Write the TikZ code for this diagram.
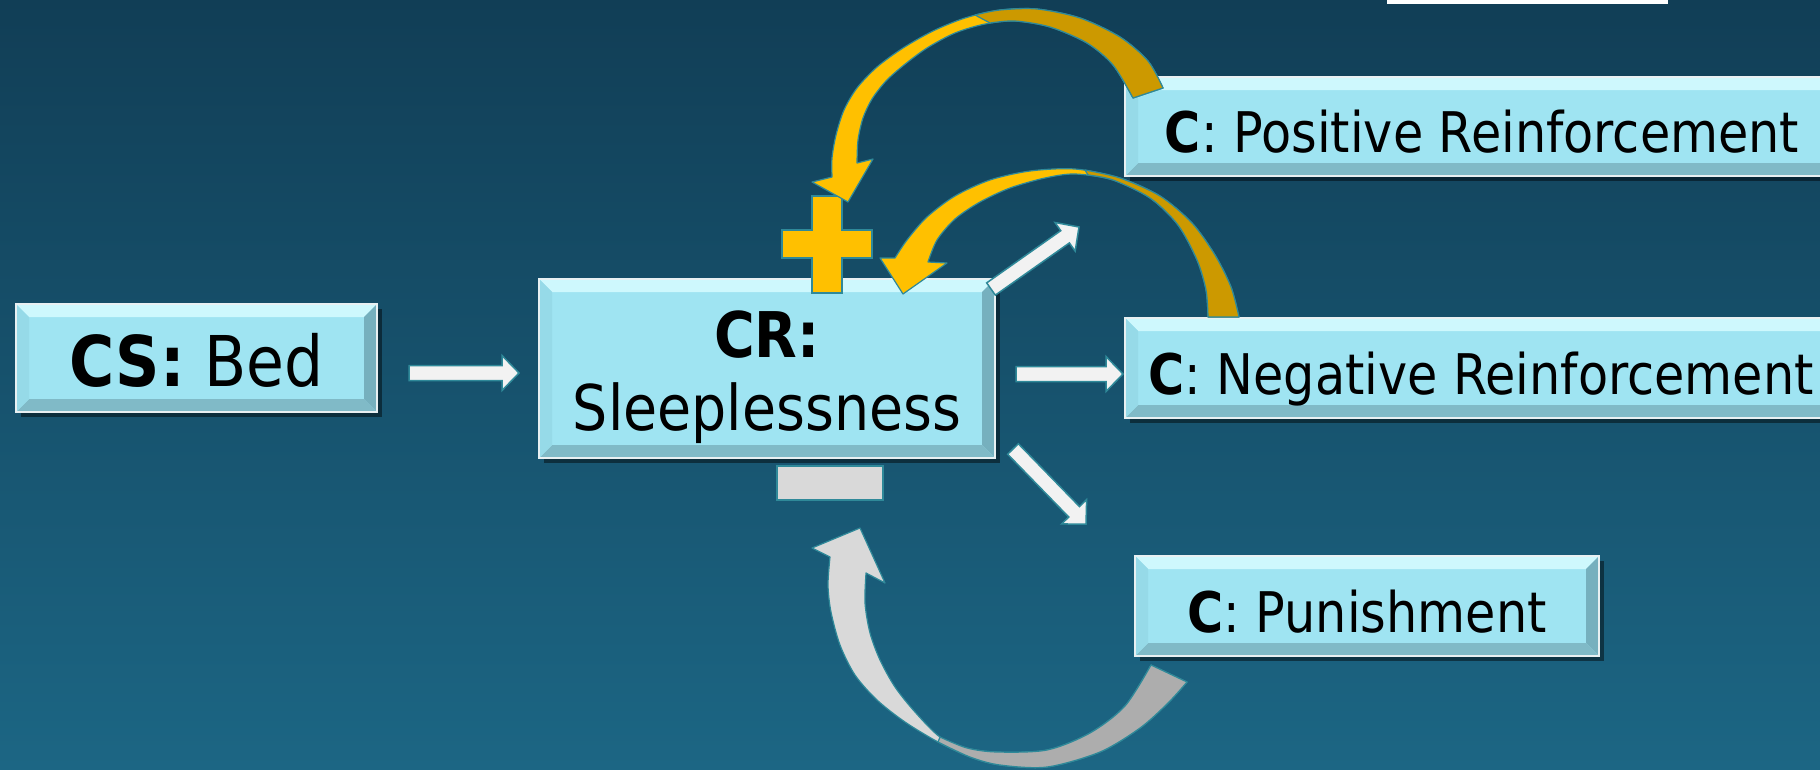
\documentclass[tikz,border=0pt]{standalone}
\usepackage{fontspec}
\setmainfont{DejaVu Sans}[FakeStretch=0.88]
\usetikzlibrary{calc,shadows}
\definecolor{bgtop}{RGB}{17,62,86}
\definecolor{bgbot}{RGB}{28,102,132}
\definecolor{boxcyan}{RGB}{159,228,242}
\definecolor{bevtop}{RGB}{206,248,253}
\definecolor{bevleft}{RGB}{150,218,232}
\definecolor{bevright}{RGB}{118,176,190}
\definecolor{bevbot}{RGB}{128,186,199}
\definecolor{boxrim}{RGB}{232,240,242}
\definecolor{tealline}{RGB}{47,137,153}
\definecolor{arrowwhite}{RGB}{242,242,242}
\definecolor{goldfront}{RGB}{255,192,0}
\definecolor{goldback}{RGB}{204,153,0}
\definecolor{greyfront}{RGB}{217,217,217}
\definecolor{greyback}{RGB}{173,173,173}

% block arrow between two points, shaft 15, head 35 x 17
\newcommand{\blockarrow}[2]{%
  \path[flatarrow] let \p1=(#1), \p2=(#2),
      \n1={atan2(\y2-\y1,\x2-\x1)}, \n2={veclen(\x2-\x1,\y2-\y1)-17} in
    ($(\p1)+(\n1+90:7.5pt)$) -- ++(\n1:\n2) -- ++(\n1+90:10pt) -- (\p2)
    -- ($(\p1)+(\n1:\n2)+(\n1-90:17.5pt)$) -- ++(\n1+90:10pt)
    -- ($(\p1)+(\n1-90:7.5pt)$) -- cycle;}

\tikzset{
  cbox/.style={draw=boxrim, line width=2pt, fill=boxcyan, inner sep=0pt,
    drop shadow={shadow xshift=5pt, shadow yshift=-5pt, opacity=.45, fill=black},
    path picture={
      \path (path picture bounding box.north west) coordinate (bb1)
            (path picture bounding box.north east) coordinate (bb2)
            (path picture bounding box.south east) coordinate (bb3)
            (path picture bounding box.south west) coordinate (bb4);
      \fill[bevtop] (bb1) -- (bb2) -- ([shift={(-13pt,-13pt)}]bb2) -- ([shift={(13pt,-13pt)}]bb1) -- cycle;
      \fill[bevright] (bb2) -- (bb3) -- ([shift={(-13pt,13pt)}]bb3) -- ([shift={(-13pt,-13pt)}]bb2) -- cycle;
      \fill[bevbot] (bb3) -- (bb4) -- ([shift={(13pt,13pt)}]bb4) -- ([shift={(-13pt,13pt)}]bb3) -- cycle;
      \fill[bevleft] (bb4) -- (bb1) -- ([shift={(13pt,-13pt)}]bb1) -- ([shift={(13pt,13pt)}]bb4) -- cycle;
    }},
  ctext/.style={font=\fontsize{56}{64}\selectfont, text height=52pt, text depth=0pt},
  flatarrow/.style={draw=tealline, line width=1.5pt, fill=arrowwhite, line join=miter},
  goldarc/.style={draw=tealline, line width=1.2pt, fill=goldfront, line join=round},
  goldrear/.style={goldarc, fill=goldback},
  greyarc/.style={draw=tealline, line width=1.2pt, fill=greyfront, line join=round},
  greyrear/.style={greyarc, fill=greyback},
}

\begin{document}
\begin{tikzpicture}[x=1pt,y=-1pt]
  \useasboundingbox (0,0) rectangle (1820,769);
  \clip (0,0) rectangle (1820,769);
  \shade[top color=bgtop, bottom color=bgbot] (0,0) rectangle (1820,769);
  \fill[white] (1387,0) rectangle (1668,3.5);

  % boxes
  \node[cbox, minimum width=361pt, minimum height=108pt,
        font=\fontsize{70}{80}\selectfont, text height=56pt, text depth=0pt]
        (bed) at (196.5,358) {\textbf{CS:} Bed};
  \node[cbox, minimum width=456pt, minimum height=179pt, text width=440pt, align=center,
        font=\fontsize{63}{73}\selectfont, text height=50pt, text depth=73pt]
        (cr) at (767,368.5) {\textbf{CR:}\\Sleeplessness};
  \node[cbox, ctext, minimum width=714pt, minimum height=99pt] (pos) at (1482,126.5)
        {\textbf{C}: Positive Reinforcement};
  \node[cbox, ctext, minimum width=712pt, minimum height=100pt] (neg) at (1481,368)
        {\textbf{C}: Negative Reinforcement};
  \node[cbox, ctext, minimum width=464pt, minimum height=100pt] (pun) at (1367,606)
        {\textbf{C}: Punishment};

  % straight arrows
  \blockarrow{$(bed.east)+(31,15)$}{$(cr.west)+(-19,4.5)$}
  \blockarrow{$(cr.north east)+(-5,11)$}{$(pos.south west)+(-45,50)$}
  \blockarrow{$(cr.east)+(20,5.5)$}{$(neg.west)+(-1,6)$}
  \blockarrow{$(cr.south east)+(17,-10)$}{$(pun.north west)+(-48,-31)$}

  % plus and minus
  \draw[goldarc, line join=miter] (812,196) -- (842,196) -- (842,230) -- (872,230) -- (872,258)
    -- (842,258) -- (842,293) -- (812,293) -- (812,258) -- (782,258) -- (782,230) -- (812,230) -- cycle;
  \draw[greyarc, line join=miter] (777,466) rectangle (883,500);

  % loop from positive reinforcement
  \draw[goldarc] plot[smooth] coordinates {(1163,88) (1148,61) (1120,37) (1080,18) (1037,9) (1000,10)
      (965,18) (933,31) (903,48) (877,67) (857,88) (844,110) (836,135) (832,158) (832,177)}
    -- (812,182) -- (848,202) -- (873,159)
    -- plot[smooth] coordinates {(857,163) (858,140) (863,118) (872,99) (886,81) (904,65) (927,48)
      (955,33) (985,24) (1015,21) (1050,27) (1087,43) (1113,65) (1133,98)} -- cycle;
  \draw[goldrear] plot[smooth] coordinates {(1163,88) (1148,61) (1120,37) (1080,18) (1037,9) (1000,10) (975,15)}
    -- plot[smooth] coordinates {(990,23) (1015,21) (1050,27) (1087,43) (1113,65) (1133,98)} -- cycle;

  % loop from negative reinforcement
  \draw[goldarc] plot[smooth] coordinates {(1239,317) (1231,287) (1215,255) (1192,223) (1160,196) (1120,178)
      (1075,169) (1030,171) (990,180) (955,196) (927,217) (907,240) (895,258)}
    -- (880,258) -- (903,294) -- (947,263)
    -- plot[smooth] coordinates {(928,262) (937,240) (955,219) (980,202) (1010,188) (1045,178) (1075,174)
      (1113,180) (1150,198) (1178,225) (1197,260) (1206,290) (1208,317)} -- cycle;
  \draw[goldrear] plot[smooth] coordinates {(1239,317) (1231,287) (1215,255) (1192,223) (1160,196) (1120,178) (1085,170)}
    -- plot[smooth] coordinates {(1088,175) (1113,180) (1150,198) (1178,225) (1197,260) (1206,290) (1208,317)} -- cycle;

  % loop from punishment
  \draw[greyarc] plot[smooth] coordinates {(1187,682) (1168,703) (1140,728) (1100,752) (1047,767) (1000,765)
      (970,757) (938,742) (905,722) (877,700) (855,675) (840,645) (831,612) (828,585) (830,557)}
    -- (812,548) -- (860,528) -- (885,583)
    -- plot[smooth] coordinates {(866,573) (865,603) (870,633) (880,660) (895,687) (915,712) (940,737)
      (967,748) (997,752) (1047,750) (1090,733) (1125,706) (1151,665)} -- cycle;
  \draw[greyrear] plot[smooth] coordinates {(1187,682) (1168,703) (1140,728) (1100,752) (1047,767) (1000,765)
      (970,757) (938,742)}
    -- plot[smooth] coordinates {(940,737) (967,748) (997,752) (1047,750) (1090,733) (1125,706) (1151,665)} -- cycle;
\end{tikzpicture}
\end{document}
